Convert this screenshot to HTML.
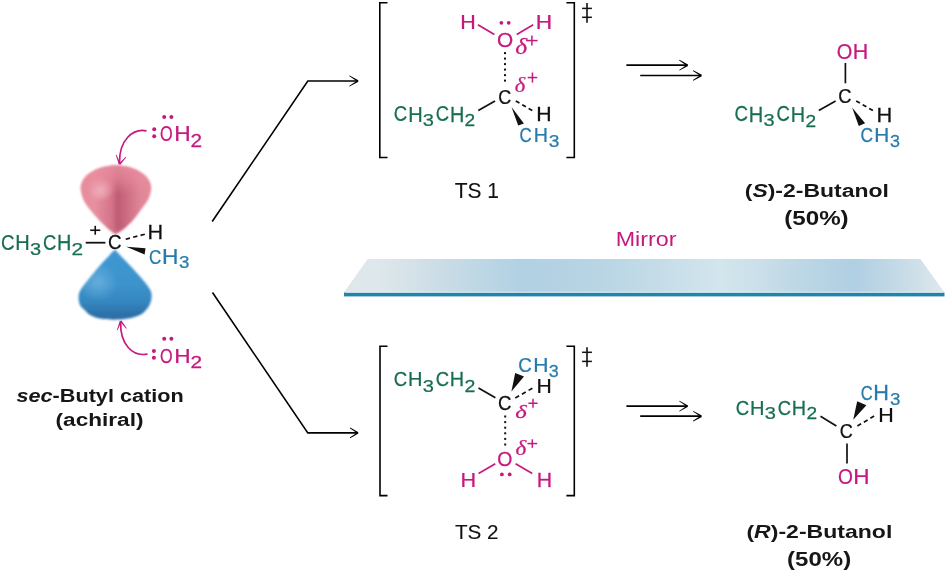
<!DOCTYPE html>
<html><head><meta charset="utf-8"><style>
html,body{margin:0;padding:0;background:#fff;}
body{width:945px;height:573px;overflow:hidden;position:relative;}
svg{position:absolute;left:0;top:0;will-change:transform;}
.lbl{position:absolute;font-family:"Liberation Sans",sans-serif;font-weight:bold;color:#161616;white-space:nowrap;line-height:1;}
</style></head><body>
<svg width="945" height="573" viewBox="0 0 945 573" style="font-kerning:none">

<defs>
 <linearGradient id="rg" x1="80" y1="0" x2="151" y2="0" gradientUnits="userSpaceOnUse">
  <stop offset="0" stop-color="#e58c9e"/>
  <stop offset="0.21" stop-color="#e6909f"/>
  <stop offset="0.45" stop-color="#d5728a"/>
  <stop offset="0.53" stop-color="#bf5c75"/>
  <stop offset="0.68" stop-color="#cf6f85"/>
  <stop offset="0.85" stop-color="#df8697"/>
  <stop offset="1" stop-color="#e48b9c"/>
 </linearGradient>
 <radialGradient id="rh" cx="101" cy="189" r="13" gradientUnits="userSpaceOnUse">
  <stop offset="0" stop-color="#f3bfca" stop-opacity="0.85"/>
  <stop offset="1" stop-color="#f3bfca" stop-opacity="0"/>
 </radialGradient>
 <linearGradient id="rt" x1="0" y1="165" x2="0" y2="235" gradientUnits="userSpaceOnUse">
  <stop offset="0" stop-color="#e98c9e" stop-opacity="0.9"/>
  <stop offset="0.2" stop-color="#e98c9e" stop-opacity="0.6"/>
  <stop offset="0.42" stop-color="#e98c9e" stop-opacity="0"/>
  <stop offset="0.9" stop-color="#d9869a" stop-opacity="0"/>
  <stop offset="1" stop-color="#e8a0ae" stop-opacity="0.5"/>
 </linearGradient>
 <linearGradient id="bg" x1="0" y1="250" x2="0" y2="320" gradientUnits="userSpaceOnUse">
  <stop offset="0" stop-color="#3f98d2"/>
  <stop offset="0.5" stop-color="#3c93cc"/>
  <stop offset="0.75" stop-color="#3586c0"/>
  <stop offset="0.9" stop-color="#2d72aa"/>
  <stop offset="1" stop-color="#2f6fa5"/>
 </linearGradient>
 <radialGradient id="bh" cx="98" cy="282" r="20" gradientUnits="userSpaceOnUse">
  <stop offset="0" stop-color="#7fbde6" stop-opacity="0.6"/>
  <stop offset="1" stop-color="#7fbde6" stop-opacity="0"/>
 </radialGradient>
 <linearGradient id="mg" x1="344" y1="0" x2="944" y2="0" gradientUnits="userSpaceOnUse">
  <stop offset="0" stop-color="#dfe7ea"/>
  <stop offset="0.06" stop-color="#dee7eb"/>
  <stop offset="0.16" stop-color="#cbdde6"/>
  <stop offset="0.293" stop-color="#b1d1e3"/>
  <stop offset="0.36" stop-color="#b4d2e3"/>
  <stop offset="0.46" stop-color="#bcd7e5"/>
  <stop offset="0.627" stop-color="#d3e5ed"/>
  <stop offset="0.677" stop-color="#cde1ea"/>
  <stop offset="0.76" stop-color="#bdd7e6"/>
  <stop offset="0.85" stop-color="#afcfe2"/>
  <stop offset="0.935" stop-color="#c8dce7"/>
  <stop offset="1" stop-color="#dfe8ec"/>
 </linearGradient>
 <filter id="soft" x="-10%" y="-10%" width="120%" height="120%"><feGaussianBlur stdDeviation="0.9"/></filter>
</defs>

<g filter="url(#soft)">
 <path d="M115.30,234.40 C114.32,233.67 112.12,232.40 109.40,230.00 C106.68,227.60 102.20,223.33 99.00,220.00 C95.80,216.67 92.78,213.33 90.20,210.00 C87.62,206.67 85.10,203.58 83.50,200.00 C81.90,196.42 80.73,191.74 80.60,188.50 C80.47,185.26 81.35,183.05 82.73,180.57 C84.11,178.08 86.27,175.61 88.86,173.59 C91.45,171.56 94.76,169.73 98.25,168.41 C101.74,167.09 105.81,166.11 109.77,165.65 C113.73,165.19 118.07,165.19 122.03,165.65 C125.99,166.11 130.06,167.09 133.55,168.41 C137.04,169.73 140.35,171.56 142.94,173.59 C145.53,175.61 147.69,178.08 149.07,180.57 C150.45,183.05 151.30,185.43 151.20,188.50 C151.10,191.57 150.23,195.42 148.50,199.00 C146.77,202.58 143.35,206.50 140.80,210.00 C138.25,213.50 136.22,216.67 133.20,220.00 C130.18,223.33 125.68,227.60 122.70,230.00 C119.72,232.40 116.53,233.67 115.30,234.40 Z" fill="url(#rg)"/>
 <path d="M115.30,234.40 C114.32,233.67 112.12,232.40 109.40,230.00 C106.68,227.60 102.20,223.33 99.00,220.00 C95.80,216.67 92.78,213.33 90.20,210.00 C87.62,206.67 85.10,203.58 83.50,200.00 C81.90,196.42 80.73,191.74 80.60,188.50 C80.47,185.26 81.35,183.05 82.73,180.57 C84.11,178.08 86.27,175.61 88.86,173.59 C91.45,171.56 94.76,169.73 98.25,168.41 C101.74,167.09 105.81,166.11 109.77,165.65 C113.73,165.19 118.07,165.19 122.03,165.65 C125.99,166.11 130.06,167.09 133.55,168.41 C137.04,169.73 140.35,171.56 142.94,173.59 C145.53,175.61 147.69,178.08 149.07,180.57 C150.45,183.05 151.30,185.43 151.20,188.50 C151.10,191.57 150.23,195.42 148.50,199.00 C146.77,202.58 143.35,206.50 140.80,210.00 C138.25,213.50 136.22,216.67 133.20,220.00 C130.18,223.33 125.68,227.60 122.70,230.00 C119.72,232.40 116.53,233.67 115.30,234.40 Z" fill="url(#rh)"/>
 <path d="M115.30,234.40 C114.32,233.67 112.12,232.40 109.40,230.00 C106.68,227.60 102.20,223.33 99.00,220.00 C95.80,216.67 92.78,213.33 90.20,210.00 C87.62,206.67 85.10,203.58 83.50,200.00 C81.90,196.42 80.73,191.74 80.60,188.50 C80.47,185.26 81.35,183.05 82.73,180.57 C84.11,178.08 86.27,175.61 88.86,173.59 C91.45,171.56 94.76,169.73 98.25,168.41 C101.74,167.09 105.81,166.11 109.77,165.65 C113.73,165.19 118.07,165.19 122.03,165.65 C125.99,166.11 130.06,167.09 133.55,168.41 C137.04,169.73 140.35,171.56 142.94,173.59 C145.53,175.61 147.69,178.08 149.07,180.57 C150.45,183.05 151.30,185.43 151.20,188.50 C151.10,191.57 150.23,195.42 148.50,199.00 C146.77,202.58 143.35,206.50 140.80,210.00 C138.25,213.50 136.22,216.67 133.20,220.00 C130.18,223.33 125.68,227.60 122.70,230.00 C119.72,232.40 116.53,233.67 115.30,234.40 Z" fill="url(#rt)"/>
 <path d="M114.80,249.60 C112.25,252.33 103.97,260.93 99.50,266.00 C95.03,271.07 91.17,276.00 88.00,280.00 C84.83,284.00 82.07,287.17 80.50,290.00 C78.93,292.83 78.68,294.50 78.60,297.00 C78.52,299.50 79.00,302.83 80.00,305.00 C81.00,307.17 82.93,308.33 84.60,310.00 C86.27,311.67 87.43,313.57 90.00,315.00 C92.57,316.43 96.00,317.80 100.00,318.60 C104.00,319.40 109.33,319.80 114.00,319.80 C118.67,319.80 123.67,319.40 128.00,318.60 C132.33,317.80 137.00,316.43 140.00,315.00 C143.00,313.57 144.33,311.83 146.00,310.00 C147.67,308.17 149.07,306.17 150.00,304.00 C150.93,301.83 151.55,299.33 151.60,297.00 C151.65,294.67 151.73,292.83 150.30,290.00 C148.87,287.17 146.30,284.00 143.00,280.00 C139.70,276.00 135.20,271.07 130.50,266.00 C125.80,260.93 117.42,252.33 114.80,249.60 Z" fill="url(#bg)"/>
 <path d="M114.80,249.60 C112.25,252.33 103.97,260.93 99.50,266.00 C95.03,271.07 91.17,276.00 88.00,280.00 C84.83,284.00 82.07,287.17 80.50,290.00 C78.93,292.83 78.68,294.50 78.60,297.00 C78.52,299.50 79.00,302.83 80.00,305.00 C81.00,307.17 82.93,308.33 84.60,310.00 C86.27,311.67 87.43,313.57 90.00,315.00 C92.57,316.43 96.00,317.80 100.00,318.60 C104.00,319.40 109.33,319.80 114.00,319.80 C118.67,319.80 123.67,319.40 128.00,318.60 C132.33,317.80 137.00,316.43 140.00,315.00 C143.00,313.57 144.33,311.83 146.00,310.00 C147.67,308.17 149.07,306.17 150.00,304.00 C150.93,301.83 151.55,299.33 151.60,297.00 C151.65,294.67 151.73,292.83 150.30,290.00 C148.87,287.17 146.30,284.00 143.00,280.00 C139.70,276.00 135.20,271.07 130.50,266.00 C125.80,260.93 117.42,252.33 114.80,249.60 Z" fill="url(#bh)"/>
</g>


<polygon points="367.6,259 920.4,259 944.5,292.6 344,292.6" fill="url(#mg)"/>
<rect x="344" y="292.6" width="600.5" height="3.8" fill="#2283ad"/>
<line x1="346" y1="292.2" x2="943" y2="292.2" stroke="#e8f6fb" stroke-width="0.8"/>

<text transform="translate(0.95 249.79) scale(0.8869 1)" font-size="21.19" fill="#186e4f" stroke="#186e4f" stroke-width="0.25" font-family='"Liberation Sans", sans-serif' font-weight="normal" font-style="normal">C</text>
<text transform="translate(15.26 249.80) scale(0.9321 1)" font-size="21.51" fill="#186e4f" stroke="#186e4f" stroke-width="0.25" font-family='"Liberation Sans", sans-serif' font-weight="normal" font-style="normal">H</text>
<text transform="translate(29.94 255.03) scale(1.1628 1)" font-size="17.23" fill="#186e4f" stroke="#186e4f" stroke-width="0.25" font-family='"Liberation Sans", sans-serif' font-weight="normal" font-style="normal">3</text>
<text transform="translate(42.96 249.79) scale(0.8720 1)" font-size="21.19" fill="#186e4f" stroke="#186e4f" stroke-width="0.25" font-family='"Liberation Sans", sans-serif' font-weight="normal" font-style="normal">C</text>
<text transform="translate(57.07 249.80) scale(0.9237 1)" font-size="21.51" fill="#186e4f" stroke="#186e4f" stroke-width="0.25" font-family='"Liberation Sans", sans-serif' font-weight="normal" font-style="normal">H</text>
<text transform="translate(71.45 255.20) scale(1.2134 1)" font-size="17.19" fill="#186e4f" stroke="#186e4f" stroke-width="0.25" font-family='"Liberation Sans", sans-serif' font-weight="normal" font-style="normal">2</text>
<line x1="85.70" y1="242.70" x2="105.40" y2="242.70" stroke="#111111" stroke-width="1.80" stroke-linecap="butt"/>
<line x1="90.20" y1="230.25" x2="100.30" y2="230.25" stroke="#111111" stroke-width="1.60" stroke-linecap="butt"/>
<line x1="95.25" y1="225.80" x2="95.25" y2="234.70" stroke="#111111" stroke-width="1.60" stroke-linecap="butt"/>
<text transform="translate(108.05 249.30) scale(0.9369 1)" font-size="20.06" fill="#111111" stroke="#111111" stroke-width="0.25" font-family='"Liberation Sans", sans-serif' font-weight="normal" font-style="normal">C</text>
<line x1="125.70" y1="239.20" x2="144.80" y2="234.20" stroke="#111111" stroke-width="1.70" stroke-dasharray="4.39 3.29"/>
<text transform="translate(147.42 239.40) scale(1.0495 1)" font-size="20.64" fill="#111111" stroke="#111111" stroke-width="0.25" font-family='"Liberation Sans", sans-serif' font-weight="normal" font-style="normal">H</text>
<polygon points="126.30,246.70 145.50,248.20 144.60,254.60" fill="#111111" />
<text transform="translate(148.93 263.90) scale(0.8158 1)" font-size="20.90" fill="#277bab" stroke="#277bab" stroke-width="0.25" font-family='"Liberation Sans", sans-serif' font-weight="normal" font-style="normal">C</text>
<text transform="translate(161.93 263.90) scale(1.0714 1)" font-size="21.22" fill="#277bab" stroke="#277bab" stroke-width="0.25" font-family='"Liberation Sans", sans-serif' font-weight="normal" font-style="normal">H</text>
<text transform="translate(178.99 268.13) scale(1.0894 1)" font-size="17.23" fill="#277bab" stroke="#277bab" stroke-width="0.25" font-family='"Liberation Sans", sans-serif' font-weight="normal" font-style="normal">3</text>
<text transform="translate(160.03 140.99) scale(0.7525 1)" font-size="21.61" fill="#c6197f" stroke="#c6197f" stroke-width="0.25" font-family='"Liberation Sans", sans-serif' font-weight="normal" font-style="normal">O</text>
<text transform="translate(174.23 141.00) scale(1.0569 1)" font-size="21.51" fill="#c6197f" stroke="#c6197f" stroke-width="0.25" font-family='"Liberation Sans", sans-serif' font-weight="normal" font-style="normal">H</text>
<text transform="translate(190.45 147.00) scale(1.1742 1)" font-size="17.76" fill="#c6197f" stroke="#c6197f" stroke-width="0.25" font-family='"Liberation Sans", sans-serif' font-weight="normal" font-style="normal">2</text>
<circle cx="154.20" cy="129.20" r="2.00" fill="#c6197f"/>
<circle cx="154.20" cy="136.20" r="2.00" fill="#c6197f"/>
<circle cx="164.20" cy="116.90" r="2.00" fill="#c6197f"/>
<circle cx="171.40" cy="116.90" r="2.00" fill="#c6197f"/>
<path d="M146.5,130.8 C133,128 119,140 119.5,163" fill="none" stroke="#c6197f" stroke-width="1.7"/>
<polygon points="120.45,163.89 116.58,154.76 115.82,155.04 118.75,164.51" fill="#c6197f"/>
<polygon points="120.28,164.79 126.30,157.16 125.70,156.64 118.92,163.61" fill="#c6197f"/>
<text transform="translate(160.03 362.99) scale(0.7727 1)" font-size="21.04" fill="#c6197f" stroke="#c6197f" stroke-width="0.25" font-family='"Liberation Sans", sans-serif' font-weight="normal" font-style="normal">O</text>
<text transform="translate(174.23 362.90) scale(1.0938 1)" font-size="20.79" fill="#c6197f" stroke="#c6197f" stroke-width="0.25" font-family='"Liberation Sans", sans-serif' font-weight="normal" font-style="normal">H</text>
<text transform="translate(190.45 367.70) scale(1.2034 1)" font-size="17.33" fill="#c6197f" stroke="#c6197f" stroke-width="0.25" font-family='"Liberation Sans", sans-serif' font-weight="normal" font-style="normal">2</text>
<circle cx="153.90" cy="350.90" r="2.00" fill="#c6197f"/>
<circle cx="153.90" cy="357.80" r="2.00" fill="#c6197f"/>
<circle cx="164.20" cy="338.80" r="2.00" fill="#c6197f"/>
<circle cx="171.40" cy="338.80" r="2.00" fill="#c6197f"/>
<path d="M147.6,354 C133,357 120,345 120.6,322" fill="none" stroke="#c6197f" stroke-width="1.7"/>
<polygon points="119.86,320.69 116.92,330.06 117.68,330.34 121.54,321.31" fill="#c6197f"/>
<polygon points="119.99,321.55 126.18,328.74 126.82,328.26 121.41,320.45" fill="#c6197f"/>
<polyline points="212.2,221.5 307.8,81 357,81" fill="none" stroke="#000" stroke-width="1.6"/>
<polygon points="358.44,80.27 349.48,75.50 349.12,76.10 357.56,81.73" fill="#000"/>
<polygon points="357.56,80.27 349.12,85.90 349.48,86.50 358.44,81.73" fill="#000"/>
<polyline points="212.5,292.5 307.8,432.9 357,432.9" fill="none" stroke="#000" stroke-width="1.6"/>
<polygon points="358.45,432.18 350.19,427.60 349.81,428.20 357.55,433.62" fill="#000"/>
<polygon points="357.55,432.18 349.81,437.60 350.19,438.20 358.45,433.62" fill="#000"/>
<polyline points="387.5,2.80 379.80,2.80 379.80,157.50 387.5,157.50" fill="none" stroke="#000" stroke-width="1.6"/>
<polyline points="566.4,2.80 574.30,2.80 574.30,157.50 566.4,157.50" fill="none" stroke="#000" stroke-width="1.6"/>
<line x1="587.00" y1="3.10" x2="587.00" y2="22.70" stroke="#111111" stroke-width="1.60" stroke-linecap="butt"/>
<line x1="582.10" y1="8.40" x2="591.90" y2="8.40" stroke="#111111" stroke-width="1.50" stroke-linecap="butt"/>
<line x1="582.10" y1="17.30" x2="591.90" y2="17.30" stroke="#111111" stroke-width="1.50" stroke-linecap="butt"/>
<text transform="translate(460.34 29.40) scale(1.0408 1)" font-size="20.64" fill="#c6197f" stroke="#c6197f" stroke-width="0.25" font-family='"Liberation Sans", sans-serif' font-weight="normal" font-style="normal">H</text>
<line x1="477.90" y1="24.70" x2="494.40" y2="34.50" stroke="#c6197f" stroke-width="1.70" stroke-linecap="butt"/>
<text transform="translate(497.01 46.71) scale(1.0596 1)" font-size="19.63" fill="#c6197f" stroke="#c6197f" stroke-width="0.25" font-family='"Liberation Sans", sans-serif' font-weight="normal" font-style="normal">O</text>
<circle cx="501.40" cy="22.80" r="1.90" fill="#c6197f"/>
<circle cx="508.70" cy="22.80" r="1.90" fill="#c6197f"/>
<line x1="516.70" y1="34.50" x2="533.20" y2="24.70" stroke="#c6197f" stroke-width="1.70" stroke-linecap="butt"/>
<text transform="translate(535.73 29.40) scale(1.1015 1)" font-size="20.64" fill="#c6197f" stroke="#c6197f" stroke-width="0.25" font-family='"Liberation Sans", sans-serif' font-weight="normal" font-style="normal">H</text>
<text transform="translate(515.25 54.27) scale(1.1004 1)" font-size="23.29" fill="#c6197f" stroke="#c6197f" stroke-width="0.25" font-family='"Liberation Serif", serif' font-weight="normal" font-style="italic">δ</text>
<line x1="526.20" y1="40.55" x2="537.60" y2="40.55" stroke="#c6197f" stroke-width="1.50" stroke-linecap="butt"/>
<line x1="531.90" y1="35.50" x2="531.90" y2="45.60" stroke="#c6197f" stroke-width="1.50" stroke-linecap="butt"/>
<rect x="504.00" y="52.10" width="2.00" height="2.00" fill="#111111"/>
<rect x="504.00" y="57.60" width="2.00" height="2.00" fill="#111111"/>
<rect x="504.00" y="63.10" width="2.00" height="2.00" fill="#111111"/>
<rect x="504.00" y="68.60" width="2.00" height="2.00" fill="#111111"/>
<rect x="504.00" y="74.10" width="2.00" height="2.00" fill="#111111"/>
<rect x="504.00" y="79.60" width="2.00" height="2.00" fill="#111111"/>
<text transform="translate(514.84 91.90) scale(1.0775 1)" font-size="20.89" fill="#c6197f" stroke="#c6197f" stroke-width="0.25" font-family='"Liberation Serif", serif' font-weight="normal" font-style="italic">δ</text>
<line x1="527.70" y1="77.55" x2="537.20" y2="77.55" stroke="#c6197f" stroke-width="1.50" stroke-linecap="butt"/>
<line x1="532.45" y1="72.50" x2="532.45" y2="82.60" stroke="#c6197f" stroke-width="1.50" stroke-linecap="butt"/>
<text transform="translate(498.19 103.61) scale(0.9039 1)" font-size="19.92" fill="#111111" stroke="#111111" stroke-width="0.25" font-family='"Liberation Sans", sans-serif' font-weight="normal" font-style="normal">C</text>
<text transform="translate(393.85 121.49) scale(0.8795 1)" font-size="21.19" fill="#186e4f" stroke="#186e4f" stroke-width="0.25" font-family='"Liberation Sans", sans-serif' font-weight="normal" font-style="normal">C</text>
<text transform="translate(408.16 121.50) scale(0.9321 1)" font-size="21.51" fill="#186e4f" stroke="#186e4f" stroke-width="0.25" font-family='"Liberation Sans", sans-serif' font-weight="normal" font-style="normal">H</text>
<text transform="translate(422.84 126.13) scale(1.1628 1)" font-size="17.23" fill="#186e4f" stroke="#186e4f" stroke-width="0.25" font-family='"Liberation Sans", sans-serif' font-weight="normal" font-style="normal">3</text>
<text transform="translate(435.86 121.49) scale(0.8720 1)" font-size="21.19" fill="#186e4f" stroke="#186e4f" stroke-width="0.25" font-family='"Liberation Sans", sans-serif' font-weight="normal" font-style="normal">C</text>
<text transform="translate(449.97 121.50) scale(0.9237 1)" font-size="21.51" fill="#186e4f" stroke="#186e4f" stroke-width="0.25" font-family='"Liberation Sans", sans-serif' font-weight="normal" font-style="normal">H</text>
<text transform="translate(464.54 126.30) scale(1.1112 1)" font-size="17.19" fill="#186e4f" stroke="#186e4f" stroke-width="0.25" font-family='"Liberation Sans", sans-serif' font-weight="normal" font-style="normal">2</text>
<line x1="478.30" y1="110.60" x2="495.00" y2="100.90" stroke="#111111" stroke-width="1.70" stroke-linecap="butt"/>
<line x1="515.80" y1="100.90" x2="532.30" y2="110.60" stroke="#111111" stroke-width="1.70" stroke-dasharray="4.25 3.19"/>
<text transform="translate(536.35 121.40) scale(1.0322 1)" font-size="20.64" fill="#111111" stroke="#111111" stroke-width="0.25" font-family='"Liberation Sans", sans-serif' font-weight="normal" font-style="normal">H</text>
<polygon points="511.50,107.00 518.20,125.50 523.90,123.60" fill="#111111" />
<text transform="translate(519.44 142.40) scale(0.8365 1)" font-size="20.20" fill="#277bab" stroke="#277bab" stroke-width="0.25" font-family='"Liberation Sans", sans-serif' font-weight="normal" font-style="normal">C</text>
<text transform="translate(533.68 142.40) scale(0.9609 1)" font-size="20.49" fill="#277bab" stroke="#277bab" stroke-width="0.25" font-family='"Liberation Sans", sans-serif' font-weight="normal" font-style="normal">H</text>
<text transform="translate(548.67 147.13) scale(1.1139 1)" font-size="17.23" fill="#277bab" stroke="#277bab" stroke-width="0.25" font-family='"Liberation Sans", sans-serif' font-weight="normal" font-style="normal">3</text>
<text transform="translate(454.73 197.69) scale(0.9770 1)" font-size="21.47" fill="#111111" stroke="#111111" stroke-width="0.10" font-family='"Liberation Sans", sans-serif' font-weight="normal" font-style="normal">TS 1</text>
<line x1="626.40" y1="65.20" x2="686.50" y2="65.20" stroke="#000" stroke-width="1.70" stroke-linecap="butt"/>
<polygon points="688.04,64.48 679.48,59.80 679.12,60.40 687.16,65.92" fill="#000"/>
<polygon points="687.16,64.48 679.12,70.00 679.48,70.60 688.04,65.92" fill="#000"/>
<line x1="640.20" y1="75.50" x2="700.30" y2="75.50" stroke="#000" stroke-width="1.70" stroke-linecap="butt"/>
<polygon points="701.83,74.77 693.28,70.30 692.92,70.90 700.97,76.23" fill="#000"/>
<polygon points="700.97,74.77 692.92,80.10 693.28,80.70 701.83,76.23" fill="#000"/>
<text transform="translate(836.86 58.79) scale(0.9342 1)" font-size="21.33" fill="#c6197f" stroke="#c6197f" stroke-width="0.25" font-family='"Liberation Sans", sans-serif' font-weight="normal" font-style="normal">O</text>
<text transform="translate(852.74 58.80) scale(1.0054 1)" font-size="21.37" fill="#c6197f" stroke="#c6197f" stroke-width="0.25" font-family='"Liberation Sans", sans-serif' font-weight="normal" font-style="normal">H</text>
<line x1="845.40" y1="63.00" x2="845.40" y2="83.30" stroke="#111111" stroke-width="1.70" stroke-linecap="butt"/>
<text transform="translate(838.37 103.41) scale(0.9397 1)" font-size="19.49" fill="#111111" stroke="#111111" stroke-width="0.25" font-family='"Liberation Sans", sans-serif' font-weight="normal" font-style="normal">C</text>
<text transform="translate(734.55 121.49) scale(0.8679 1)" font-size="21.47" fill="#186e4f" stroke="#186e4f" stroke-width="0.25" font-family='"Liberation Sans", sans-serif' font-weight="normal" font-style="normal">C</text>
<text transform="translate(748.86 121.50) scale(0.9196 1)" font-size="21.80" fill="#186e4f" stroke="#186e4f" stroke-width="0.25" font-family='"Liberation Sans", sans-serif' font-weight="normal" font-style="normal">H</text>
<text transform="translate(763.54 126.43) scale(1.1628 1)" font-size="17.23" fill="#186e4f" stroke="#186e4f" stroke-width="0.25" font-family='"Liberation Sans", sans-serif' font-weight="normal" font-style="normal">3</text>
<text transform="translate(776.56 121.49) scale(0.8605 1)" font-size="21.47" fill="#186e4f" stroke="#186e4f" stroke-width="0.25" font-family='"Liberation Sans", sans-serif' font-weight="normal" font-style="normal">C</text>
<text transform="translate(790.67 121.50) scale(0.9114 1)" font-size="21.80" fill="#186e4f" stroke="#186e4f" stroke-width="0.25" font-family='"Liberation Sans", sans-serif' font-weight="normal" font-style="normal">H</text>
<text transform="translate(805.54 126.60) scale(1.1112 1)" font-size="17.19" fill="#186e4f" stroke="#186e4f" stroke-width="0.25" font-family='"Liberation Sans", sans-serif' font-weight="normal" font-style="normal">2</text>
<line x1="818.80" y1="110.50" x2="835.60" y2="101.00" stroke="#111111" stroke-width="1.70" stroke-linecap="butt"/>
<line x1="856.20" y1="101.00" x2="872.90" y2="110.50" stroke="#111111" stroke-width="1.70" stroke-dasharray="4.27 3.20"/>
<text transform="translate(876.61 121.50) scale(1.0435 1)" font-size="20.93" fill="#111111" stroke="#111111" stroke-width="0.25" font-family='"Liberation Sans", sans-serif' font-weight="normal" font-style="normal">H</text>
<polygon points="852.10,107.50 858.80,126.00 865.10,123.30" fill="#111111" />
<text transform="translate(860.42 142.30) scale(0.8600 1)" font-size="20.20" fill="#277bab" stroke="#277bab" stroke-width="0.25" font-family='"Liberation Sans", sans-serif' font-weight="normal" font-style="normal">C</text>
<text transform="translate(874.20 142.30) scale(1.0133 1)" font-size="20.49" fill="#277bab" stroke="#277bab" stroke-width="0.25" font-family='"Liberation Sans", sans-serif' font-weight="normal" font-style="normal">H</text>
<text transform="translate(889.92 147.03) scale(1.0404 1)" font-size="17.23" fill="#277bab" stroke="#277bab" stroke-width="0.25" font-family='"Liberation Sans", sans-serif' font-weight="normal" font-style="normal">3</text>
<text transform="translate(615.69 245.50) scale(1.1655 1)" font-size="20.02" fill="#c6197f" stroke="#c6197f" stroke-width="0.00" font-family='"Liberation Sans", sans-serif' font-weight="normal" font-style="normal">Mirror</text>
<polyline points="387.5,346.20 380.00,346.20 380.00,495.60 387.5,495.60" fill="none" stroke="#000" stroke-width="1.6"/>
<polyline points="566.4,346.20 574.30,346.20 574.30,495.60 566.4,495.60" fill="none" stroke="#000" stroke-width="1.6"/>
<line x1="587.00" y1="347.20" x2="587.00" y2="366.80" stroke="#111111" stroke-width="1.60" stroke-linecap="butt"/>
<line x1="582.10" y1="352.30" x2="591.90" y2="352.30" stroke="#111111" stroke-width="1.50" stroke-linecap="butt"/>
<line x1="582.10" y1="361.40" x2="591.90" y2="361.40" stroke="#111111" stroke-width="1.50" stroke-linecap="butt"/>
<text transform="translate(393.75 385.80) scale(0.8974 1)" font-size="20.76" fill="#186e4f" stroke="#186e4f" stroke-width="0.25" font-family='"Liberation Sans", sans-serif' font-weight="normal" font-style="normal">C</text>
<text transform="translate(408.06 385.80) scale(0.9513 1)" font-size="21.08" fill="#186e4f" stroke="#186e4f" stroke-width="0.25" font-family='"Liberation Sans", sans-serif' font-weight="normal" font-style="normal">H</text>
<text transform="translate(422.74 391.53) scale(1.1628 1)" font-size="17.23" fill="#186e4f" stroke="#186e4f" stroke-width="0.25" font-family='"Liberation Sans", sans-serif' font-weight="normal" font-style="normal">3</text>
<text transform="translate(435.76 385.80) scale(0.8898 1)" font-size="20.76" fill="#186e4f" stroke="#186e4f" stroke-width="0.25" font-family='"Liberation Sans", sans-serif' font-weight="normal" font-style="normal">C</text>
<text transform="translate(449.87 385.80) scale(0.9428 1)" font-size="21.08" fill="#186e4f" stroke="#186e4f" stroke-width="0.25" font-family='"Liberation Sans", sans-serif' font-weight="normal" font-style="normal">H</text>
<text transform="translate(464.52 391.70) scale(1.1367 1)" font-size="17.19" fill="#186e4f" stroke="#186e4f" stroke-width="0.25" font-family='"Liberation Sans", sans-serif' font-weight="normal" font-style="normal">2</text>
<line x1="478.50" y1="387.90" x2="495.40" y2="397.80" stroke="#111111" stroke-width="1.70" stroke-linecap="butt"/>
<text transform="translate(518.35 371.80) scale(0.9112 1)" font-size="20.62" fill="#277bab" stroke="#277bab" stroke-width="0.25" font-family='"Liberation Sans", sans-serif' font-weight="normal" font-style="normal">C</text>
<text transform="translate(533.27 371.80) scale(1.0093 1)" font-size="20.93" fill="#277bab" stroke="#277bab" stroke-width="0.25" font-family='"Liberation Sans", sans-serif' font-weight="normal" font-style="normal">H</text>
<text transform="translate(548.72 376.83) scale(1.0404 1)" font-size="17.23" fill="#277bab" stroke="#277bab" stroke-width="0.25" font-family='"Liberation Sans", sans-serif' font-weight="normal" font-style="normal">3</text>
<polygon points="511.40,391.50 515.20,372.90 524.00,376.40" fill="#111111" />
<text transform="translate(536.47 393.40) scale(1.0608 1)" font-size="19.91" fill="#111111" stroke="#111111" stroke-width="0.25" font-family='"Liberation Sans", sans-serif' font-weight="normal" font-style="normal">H</text>
<line x1="515.30" y1="398.00" x2="532.40" y2="388.20" stroke="#111111" stroke-width="1.70" stroke-dasharray="4.38 3.28"/>
<text transform="translate(498.05 410.20) scale(0.9161 1)" font-size="20.34" fill="#111111" stroke="#111111" stroke-width="0.25" font-family='"Liberation Sans", sans-serif' font-weight="normal" font-style="normal">C</text>
<text transform="translate(515.28 417.71) scale(1.2518 1)" font-size="19.76" fill="#c6197f" stroke="#c6197f" stroke-width="0.25" font-family='"Liberation Serif", serif' font-weight="normal" font-style="italic">δ</text>
<line x1="528.40" y1="403.25" x2="537.60" y2="403.25" stroke="#c6197f" stroke-width="1.50" stroke-linecap="butt"/>
<line x1="533.00" y1="398.70" x2="533.00" y2="407.80" stroke="#c6197f" stroke-width="1.50" stroke-linecap="butt"/>
<rect x="504.20" y="415.50" width="2.00" height="2.00" fill="#111111"/>
<rect x="504.20" y="421.10" width="2.00" height="2.00" fill="#111111"/>
<rect x="504.20" y="426.70" width="2.00" height="2.00" fill="#111111"/>
<rect x="504.20" y="432.30" width="2.00" height="2.00" fill="#111111"/>
<rect x="504.20" y="437.90" width="2.00" height="2.00" fill="#111111"/>
<rect x="504.20" y="443.50" width="2.00" height="2.00" fill="#111111"/>
<text transform="translate(515.62 455.40) scale(1.1564 1)" font-size="20.04" fill="#c6197f" stroke="#c6197f" stroke-width="0.25" font-family='"Liberation Serif", serif' font-weight="normal" font-style="italic">δ</text>
<line x1="527.40" y1="443.55" x2="537.20" y2="443.55" stroke="#c6197f" stroke-width="1.50" stroke-linecap="butt"/>
<line x1="532.30" y1="439.30" x2="532.30" y2="447.80" stroke="#c6197f" stroke-width="1.50" stroke-linecap="butt"/>
<text transform="translate(497.18 466.31) scale(0.9924 1)" font-size="19.63" fill="#c6197f" stroke="#c6197f" stroke-width="0.25" font-family='"Liberation Sans", sans-serif' font-weight="normal" font-style="normal">O</text>
<line x1="478.60" y1="473.50" x2="495.30" y2="463.70" stroke="#c6197f" stroke-width="1.70" stroke-linecap="butt"/>
<line x1="515.60" y1="463.70" x2="532.30" y2="473.50" stroke="#c6197f" stroke-width="1.70" stroke-linecap="butt"/>
<circle cx="501.90" cy="474.40" r="1.90" fill="#c6197f"/>
<circle cx="509.70" cy="474.40" r="1.90" fill="#c6197f"/>
<text transform="translate(460.52 486.70) scale(1.0349 1)" font-size="20.93" fill="#c6197f" stroke="#c6197f" stroke-width="0.25" font-family='"Liberation Sans", sans-serif' font-weight="normal" font-style="normal">H</text>
<text transform="translate(536.85 486.70) scale(1.0178 1)" font-size="20.93" fill="#c6197f" stroke="#c6197f" stroke-width="0.25" font-family='"Liberation Sans", sans-serif' font-weight="normal" font-style="normal">H</text>
<text transform="translate(454.94 538.60) scale(0.9901 1)" font-size="20.90" fill="#111111" stroke="#111111" stroke-width="0.10" font-family='"Liberation Sans", sans-serif' font-weight="normal" font-style="normal">TS 2</text>
<line x1="626.40" y1="406.10" x2="686.50" y2="406.10" stroke="#000" stroke-width="1.70" stroke-linecap="butt"/>
<polygon points="688.04,405.38 679.48,400.70 679.12,401.30 687.16,406.82" fill="#000"/>
<polygon points="687.16,405.38 679.12,410.90 679.48,411.50 688.04,406.82" fill="#000"/>
<line x1="640.20" y1="416.20" x2="700.30" y2="416.20" stroke="#000" stroke-width="1.70" stroke-linecap="butt"/>
<polygon points="701.83,415.47 693.28,411.00 692.92,411.60 700.97,416.93" fill="#000"/>
<polygon points="700.97,415.47 692.92,420.80 693.28,421.40 701.83,416.93" fill="#000"/>
<text transform="translate(735.65 414.70) scale(0.8974 1)" font-size="20.76" fill="#186e4f" stroke="#186e4f" stroke-width="0.25" font-family='"Liberation Sans", sans-serif' font-weight="normal" font-style="normal">C</text>
<text transform="translate(749.96 414.70) scale(0.9513 1)" font-size="21.08" fill="#186e4f" stroke="#186e4f" stroke-width="0.25" font-family='"Liberation Sans", sans-serif' font-weight="normal" font-style="normal">H</text>
<text transform="translate(764.64 419.23) scale(1.1628 1)" font-size="17.23" fill="#186e4f" stroke="#186e4f" stroke-width="0.25" font-family='"Liberation Sans", sans-serif' font-weight="normal" font-style="normal">3</text>
<text transform="translate(777.66 414.70) scale(0.8898 1)" font-size="20.76" fill="#186e4f" stroke="#186e4f" stroke-width="0.25" font-family='"Liberation Sans", sans-serif' font-weight="normal" font-style="normal">C</text>
<text transform="translate(791.77 414.70) scale(0.9428 1)" font-size="21.08" fill="#186e4f" stroke="#186e4f" stroke-width="0.25" font-family='"Liberation Sans", sans-serif' font-weight="normal" font-style="normal">H</text>
<text transform="translate(806.54 419.40) scale(1.1112 1)" font-size="17.19" fill="#186e4f" stroke="#186e4f" stroke-width="0.25" font-family='"Liberation Sans", sans-serif' font-weight="normal" font-style="normal">2</text>
<line x1="820.50" y1="416.30" x2="836.40" y2="426.00" stroke="#111111" stroke-width="1.70" stroke-linecap="butt"/>
<text transform="translate(839.68 438.40) scale(0.8746 1)" font-size="20.76" fill="#111111" stroke="#111111" stroke-width="0.25" font-family='"Liberation Sans", sans-serif' font-weight="normal" font-style="normal">C</text>
<text transform="translate(860.66 399.89) scale(0.7878 1)" font-size="21.04" fill="#277bab" stroke="#277bab" stroke-width="0.25" font-family='"Liberation Sans", sans-serif' font-weight="normal" font-style="normal">C</text>
<text transform="translate(873.32 399.90) scale(1.0138 1)" font-size="21.37" fill="#277bab" stroke="#277bab" stroke-width="0.25" font-family='"Liberation Sans", sans-serif' font-weight="normal" font-style="normal">H</text>
<text transform="translate(890.09 405.43) scale(1.0894 1)" font-size="17.23" fill="#277bab" stroke="#277bab" stroke-width="0.25" font-family='"Liberation Sans", sans-serif' font-weight="normal" font-style="normal">3</text>
<polygon points="853.20,419.70 857.20,401.30 866.40,405.20" fill="#111111" />
<text transform="translate(878.14 422.40) scale(1.0408 1)" font-size="20.64" fill="#111111" stroke="#111111" stroke-width="0.25" font-family='"Liberation Sans", sans-serif' font-weight="normal" font-style="normal">H</text>
<line x1="857.40" y1="426.00" x2="874.10" y2="416.10" stroke="#111111" stroke-width="1.70" stroke-dasharray="4.31 3.24"/>
<line x1="847.00" y1="443.60" x2="847.00" y2="463.50" stroke="#111111" stroke-width="1.70" stroke-linecap="butt"/>
<text transform="translate(837.99 483.98) scale(0.8710 1)" font-size="22.03" fill="#c6197f" stroke="#c6197f" stroke-width="0.25" font-family='"Liberation Sans", sans-serif' font-weight="normal" font-style="normal">O</text>
<text transform="translate(853.25 484.00) scale(1.0210 1)" font-size="22.09" fill="#c6197f" stroke="#c6197f" stroke-width="0.25" font-family='"Liberation Sans", sans-serif' font-weight="normal" font-style="normal">H</text>
<text transform="translate(16.46 401.70) scale(1.1462 1)" font-size="18.90" fill="#161616" font-family='"Liberation Sans", sans-serif' font-weight="bold"><tspan font-style="italic">sec</tspan><tspan font-style="normal">-Butyl cation</tspan></text>
<text transform="translate(55.57 426.40) scale(1.1965 1)" font-size="18.90" fill="#161616" font-family='"Liberation Sans", sans-serif' font-weight="bold"><tspan font-style="normal">(achiral)</tspan></text>
<text transform="translate(744.76 197.40) scale(1.2156 1)" font-size="18.90" fill="#161616" font-family='"Liberation Sans", sans-serif' font-weight="bold"><tspan font-style="normal">(</tspan><tspan font-style="italic">S</tspan><tspan font-style="normal">)-2-Butanol</tspan></text>
<text transform="translate(784.20 225.00) scale(1.2510 1)" font-size="19.33" fill="#161616" font-family='"Liberation Sans", sans-serif' font-weight="bold"><tspan font-style="normal">(50%)</tspan></text>
<text transform="translate(746.45 537.90) scale(1.2193 1)" font-size="18.90" fill="#161616" font-family='"Liberation Sans", sans-serif' font-weight="bold"><tspan font-style="normal">(</tspan><tspan font-style="italic">R</tspan><tspan font-style="normal">)-2-Butanol</tspan></text>
<text transform="translate(787.10 565.60) scale(1.2155 1)" font-size="19.77" fill="#161616" font-family='"Liberation Sans", sans-serif' font-weight="bold"><tspan font-style="normal">(50%)</tspan></text>

</svg>
</body></html>
